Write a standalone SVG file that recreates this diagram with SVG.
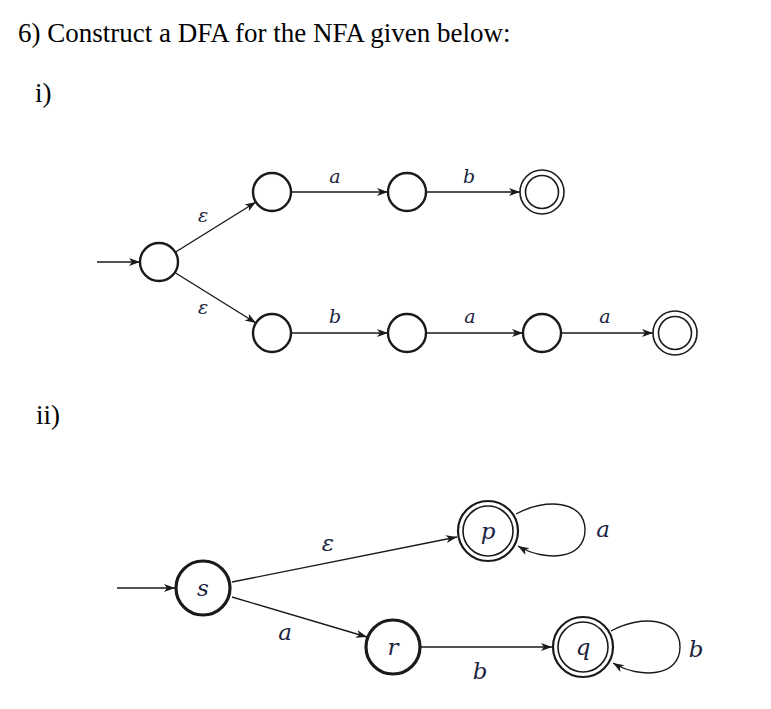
<svg xmlns="http://www.w3.org/2000/svg" width="771" height="709" viewBox="0 0 771 709">
<style>
.title{font-family:"Liberation Serif","Times New Roman",serif;font-size:27px;fill:#000}
.st{fill:#fff;stroke:#1a1a1a;stroke-width:2.4}
.stb{fill:#fff;stroke:#1a1a1a;stroke-width:3.2}
.acc{fill:none;stroke:#1a1a1a;stroke-width:1.6}
.e{fill:none;stroke:#1a1a1a;stroke-width:1.4}
.lbl{font-family:"DejaVu Serif","Liberation Serif",serif;font-style:italic;fill:#1c2340;text-anchor:middle}
.s1{font-size:19px}
.s2{font-size:23px}
</style>
<defs>
<marker id="ah" markerUnits="userSpaceOnUse" markerWidth="12" markerHeight="10" refX="11" refY="5" orient="auto">
<path d="M0,1 L11,5 L0,9 L3,5 Z" fill="#1a1a1a"/>
</marker>
</defs>
<rect width="771" height="709" fill="#fff"/>
<text class="title" x="18" y="42">6) Construct a DFA for the NFA given below:</text>
<text class="title" x="35" y="102">i)</text>
<text class="title" x="36" y="424">ii)</text>

<g id="connectors">
<line class="e" x1="97" y1="262" x2="140" y2="262" marker-end="url(#ah)"/>
<line class="e" x1="174" y1="253" x2="256" y2="202" marker-end="url(#ah)"/>
<line class="e" x1="174" y1="272" x2="256" y2="323" marker-end="url(#ah)"/>
<line class="e" x1="291" y1="192" x2="388" y2="192" marker-end="url(#ah)"/>
<line class="e" x1="426" y1="192" x2="520" y2="192" marker-end="url(#ah)"/>
<line class="e" x1="291" y1="333" x2="388" y2="333" marker-end="url(#ah)"/>
<line class="e" x1="426" y1="333" x2="523" y2="333" marker-end="url(#ah)"/>
<line class="e" x1="561" y1="333" x2="653" y2="333" marker-end="url(#ah)"/>

<line class="e" x1="117" y1="588" x2="175" y2="588" marker-end="url(#ah)"/>
<line class="e" x1="232" y1="582" x2="457" y2="537" marker-end="url(#ah)"/>
<line class="e" x1="232" y1="597" x2="367" y2="637" marker-end="url(#ah)"/>
<line class="e" x1="421" y1="647" x2="552" y2="647" marker-end="url(#ah)"/>
<path class="e" d="M516,514 C545,498 585,500 585,530 C585,560 545,562 518,546" marker-end="url(#ah)"/>
<path class="e" d="M611,631 C640,615 680,617 680,647 C680,677 640,679 613,663" marker-end="url(#ah)"/>

<text class="lbl s1" x="203" y="222">ε</text>
<text class="lbl s1" x="203" y="314">ε</text>
<text class="lbl s1" x="335" y="183">a</text>
<text class="lbl s1" x="469" y="183">b</text>
<text class="lbl s1" x="335" y="323">b</text>
<text class="lbl s1" x="470" y="323">a</text>
<text class="lbl s1" x="605" y="323">a</text>
<text class="lbl s2" x="328" y="551">ε</text>
<text class="lbl s2" x="285" y="640">a</text>
<text class="lbl s2" x="480" y="679">b</text>
<text class="lbl s2" x="603" y="537">a</text>
<text class="lbl s2" x="696" y="657">b</text>
</g>

<g id="n0"><circle class="st" cx="159" cy="262" r="19"/></g>
<g id="n1"><circle class="st" cx="272" cy="192" r="19"/></g>
<g id="n2"><circle class="st" cx="407" cy="192" r="19"/></g>
<g id="n3"><circle class="acc" cx="542" cy="192" r="22"/><circle class="acc" cx="542" cy="192" r="16.5"/></g>
<g id="n4"><circle class="st" cx="272" cy="333" r="19"/></g>
<g id="n5"><circle class="st" cx="407" cy="333" r="19"/></g>
<g id="n6"><circle class="st" cx="542" cy="333" r="19"/></g>
<g id="n7"><circle class="acc" cx="675" cy="333" r="22"/><circle class="acc" cx="675" cy="333" r="16.5"/></g>

<g id="s"><circle class="stb" cx="203" cy="588" r="27"/><text class="lbl s2" x="203" y="596">s</text></g>
<g id="r"><circle class="stb" cx="393" cy="647" r="27"/><text class="lbl s2" x="393" y="655">r</text></g>
<g id="p"><circle class="acc" cx="488" cy="531" r="30" style="stroke-width:2.2"/><circle class="acc" cx="488" cy="531" r="25"/><text class="lbl s2" x="488" y="539">p</text></g>
<g id="q"><circle class="acc" cx="583" cy="647" r="30" style="stroke-width:2.2"/><circle class="acc" cx="583" cy="647" r="25"/><text class="lbl s2" x="583" y="655">q</text></g>
</svg>
